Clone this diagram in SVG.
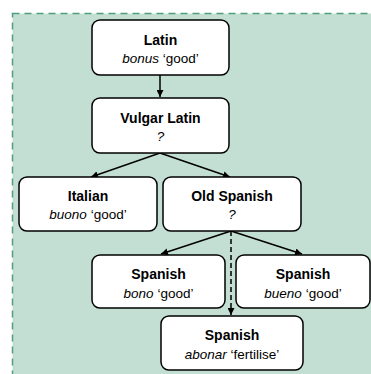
<svg xmlns="http://www.w3.org/2000/svg" width="371" height="374" viewBox="0 0 371 374">
<defs>
<marker id="ah" viewBox="0 0 10 10" refX="10" refY="5" markerWidth="7" markerHeight="7" orient="auto" markerUnits="userSpaceOnUse">
<path d="M0,0 L10,5 L0,10 z" fill="#000"/>
</marker>
<style>
.node rect{fill:#fff;stroke:#000;stroke-width:1.5}
.t{font-family:"Liberation Sans",Arial,sans-serif;font-size:14px;font-weight:bold;text-anchor:middle;fill:#000}
.s{font-family:"Liberation Sans",Arial,sans-serif;font-size:13.5px;text-anchor:middle;fill:#000}
.s tspan.i{font-style:italic}
.edge{stroke:#000;stroke-width:1.5;fill:none;marker-end:url(#ah)}
.dash{stroke-dasharray:5,3}
</style>
</defs>
<rect x="12.5" y="13.5" width="370" height="370" fill="#c3dfd4" stroke="#4f9f7f" stroke-width="1.5" stroke-dasharray="7,5"/>
<g id="connectors">
<line class="edge" x1="160" y1="75" x2="160" y2="97"/>
<line class="edge" x1="160" y1="153" x2="91" y2="177"/>
<line class="edge" x1="160" y1="153" x2="230" y2="177"/>
<line class="edge" x1="231" y1="231" x2="161" y2="254"/>
<line class="edge" x1="231" y1="231" x2="302" y2="254"/>
<line class="edge dash" x1="231" y1="231" x2="231" y2="315"/>
</g>
<g id="latin" class="node">
<rect x="92" y="20" width="137" height="55" rx="8"/>
<text class="t" x="160.5" y="45">Latin</text>
<text class="s" x="160.5" y="63"><tspan class="i">bonus</tspan> ‘good’</text>
</g>
<g id="vulgar-latin" class="node">
<rect x="92" y="98" width="137" height="55" rx="8"/>
<text class="t" x="160.5" y="123">Vulgar Latin</text>
<text class="s" x="160.5" y="141"><tspan class="i">?</tspan></text>
</g>
<g id="italian" class="node">
<rect x="19" y="177" width="138" height="54" rx="8"/>
<text class="t" x="88" y="201">Italian</text>
<text class="s" x="88" y="219"><tspan class="i">buono</tspan> ‘good’</text>
</g>
<g id="old-spanish" class="node">
<rect x="163" y="177" width="138" height="54" rx="8"/>
<text class="t" x="232" y="201">Old Spanish</text>
<text class="s" x="232" y="219"><tspan class="i">?</tspan></text>
</g>
<g id="spanish-bono" class="node">
<rect x="92" y="255" width="133" height="53" rx="8"/>
<text class="t" x="158.5" y="279">Spanish</text>
<text class="s" x="158.5" y="298"><tspan class="i">bono</tspan> ‘good’</text>
</g>
<g id="spanish-bueno" class="node">
<rect x="236" y="255" width="134" height="53" rx="8"/>
<text class="t" x="303" y="279">Spanish</text>
<text class="s" x="303" y="298"><tspan class="i">bueno</tspan> ‘good’</text>
</g>
<g id="spanish-abonar" class="node">
<rect x="161" y="316" width="142" height="54" rx="8"/>
<text class="t" x="232" y="340">Spanish</text>
<text class="s" x="232" y="359"><tspan class="i">abonar</tspan> ‘fertilise’</text>
</g>
</svg>
